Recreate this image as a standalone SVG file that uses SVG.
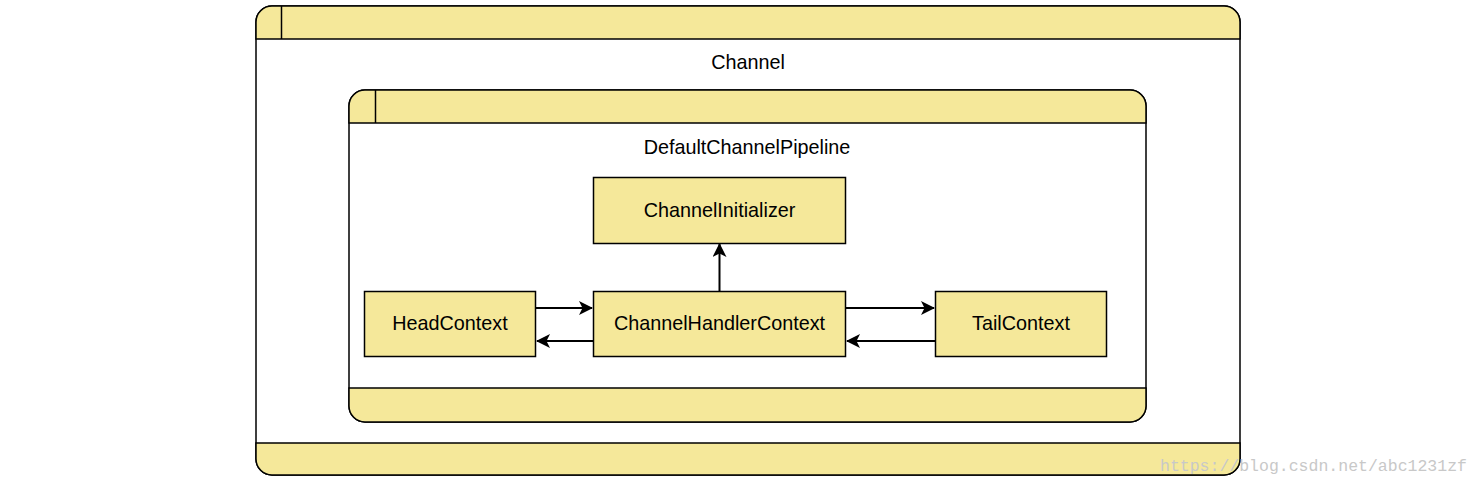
<svg xmlns="http://www.w3.org/2000/svg" width="1481" height="483" viewBox="0 0 1481 483">
<style>
.band{fill:#f5e89a;stroke:#000;stroke-width:1.5}
.frame{fill:#fff;stroke:#000;stroke-width:1.5}
.ln{fill:none;stroke:#000;stroke-width:1.5}
.box{fill:#f5e89a;stroke:#000;stroke-width:1.5}
.t{font-family:"Liberation Sans",Arial,sans-serif;font-size:19.8px;fill:#000;text-anchor:middle}
.c{fill:none;stroke:#000;stroke-width:2}
.wm{font-family:"Liberation Mono","DejaVu Sans Mono",monospace;font-size:16.5px;fill:#c8c8c8}
</style>
<defs>
<marker id="ah" viewBox="0 0 14 14" refX="13" refY="7" markerWidth="14" markerHeight="14" markerUnits="userSpaceOnUse" orient="auto">
<path d="M0,0 L14,7 L0,14 L3.5,7 Z" fill="#000"/>
</marker>
</defs>
<g id="channel">
<rect class="frame" x="256" y="6" width="984" height="469" rx="16"/>
<path class="band" d="M256,39 V22 A16,16 0 0 1 272,6 H1224 A16,16 0 0 1 1240,22 V39 Z"/>
<path class="band" d="M256,443 V459 A16,16 0 0 0 272,475 H1224 A16,16 0 0 0 1240,459 V443 Z"/>
<line class="ln" x1="281.5" y1="6" x2="281.5" y2="39"/>
<text class="t" x="748" y="69">Channel</text>
</g>
<g id="pipeline">
<rect class="frame" x="349" y="90" width="797" height="332" rx="16"/>
<path class="band" d="M349,123 V106 A16,16 0 0 1 365,90 H1130 A16,16 0 0 1 1146,106 V123 Z"/>
<path class="band" d="M349,388 V406 A16,16 0 0 0 365,422 H1130 A16,16 0 0 0 1146,406 V388 Z"/>
<line class="ln" x1="375.5" y1="90" x2="375.5" y2="123"/>
<text class="t" x="747" y="154">DefaultChannelPipeline</text>
</g>
<g id="channelInitializer">
<rect class="box" x="593.5" y="177.5" width="252" height="66"/>
<text class="t" x="719.5" y="217">ChannelInitializer</text>
</g>
<g id="headContext">
<rect class="box" x="364.5" y="291.5" width="171" height="65"/>
<text class="t" x="450" y="330">HeadContext</text>
</g>
<g id="channelHandlerContext">
<rect class="box" x="593.5" y="291.5" width="252" height="65"/>
<text class="t" x="719.5" y="330">ChannelHandlerContext</text>
</g>
<g id="tailContext">
<rect class="box" x="935.5" y="291.5" width="171" height="65"/>
<text class="t" x="1021" y="330">TailContext</text>
</g>
<g id="connectors">
<line class="c" x1="536" y1="308" x2="592" y2="308" marker-end="url(#ah)"/>
<line class="c" x1="593" y1="341" x2="537" y2="341" marker-end="url(#ah)"/>
<line class="c" x1="846" y1="308" x2="934" y2="308" marker-end="url(#ah)"/>
<line class="c" x1="935" y1="341" x2="847" y2="341" marker-end="url(#ah)"/>
<line class="c" x1="719.5" y1="291" x2="719.5" y2="244" marker-end="url(#ah)"/>
</g>
<text class="wm" x="1160" y="471">https://blog.csdn.net/abc1231zf</text>
</svg>
